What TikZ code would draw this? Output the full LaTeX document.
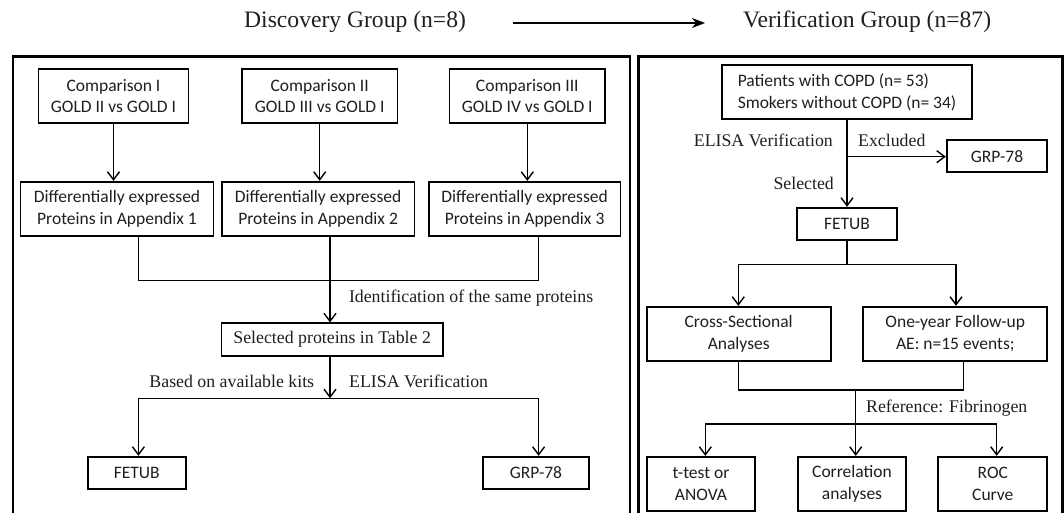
\documentclass[tikz,border=0pt]{standalone}
\usepackage{fontspec}
\setmainfont{Liberation Serif}
\newfontfamily\boxfont{Carlito}
\usetikzlibrary{arrows.meta}
\begin{document}
\begin{tikzpicture}[x=1pt,y=-1pt,
  box/.style={draw, line width=1.7pt, inner sep=0pt, align=center,
    font=\boxfont\fontsize{17.5}{21.7}\selectfont, text=black!88},
  bx/.style n args={2}{box, minimum width=#1pt, minimum height=#2pt},
  lbl/.style={inner sep=0pt, font=\fontsize{17.8}{20}\selectfont, text=black!88},
  ttl/.style={inner sep=0pt, font=\fontsize{23.6}{26}\selectfont, text=black!88},
  conn/.style={line width=1.4pt},
  arr/.style={conn, -{Straight Barb[length=8pt,width=12pt,line width=1.4pt]}},
  tarr/.style={line width=1.8pt, -{Stealth[length=13pt,width=10pt,inset=4pt]}},
  panel/.style={line width=2.4pt}]
\useasboundingbox (0,0) rectangle (1064,513);
\fill[white] (0,0) rectangle (1064,513);

% titles
\node[ttl, anchor=west] (t1) at (244,22) {Discovery Group (n=8)};
\node[ttl, anchor=west] (t2) at (743,22) {Verification Group (n=87)};
\draw[tarr] ([xshift=47pt,yshift=-1pt]t1.east) -- ([xshift=-38pt,yshift=-1pt]t2.west);

% panels
\draw[panel] (12.7,513) -- (12.7,56.5) -- (630,56.5) -- (630,513);
\draw[panel] (638.3,513) -- (638.3,56.5) -- (1062.3,56.5) -- (1062.3,513);

% ---------- left panel ----------
\node[bx={150.2}{53.4}] (c1) at (113.5,96) {Comparison I\\GOLD II vs GOLD I};
\node[bx={155.4}{53.4}] (c2) at (319.7,96) {Comparison II\\GOLD III vs GOLD I};
\node[bx={155.4}{53.4}] (c3) at (527.3,96) {Comparison III\\GOLD IV vs GOLD I};
\node[bx={192.9}{54.3}] (d1) at (117,208.85) {Differentially expressed\\Proteins in Appendix 1};
\node[bx={192.6}{54.3}] (d2) at (318.1,208.85) {Differentially expressed\\Proteins in Appendix 2};
\node[bx={191.5}{54.3}] (d3) at (524.6,208.85) {Differentially expressed\\Proteins in Appendix 3};
\node[box, minimum width=221.5pt, minimum height=32.7pt, font=\fontsize{17.8}{20}\selectfont] (sel) at (332.15,339.65) {Selected proteins in Table 2};
\node[bx={98}{32.6}] (fetubL) at (136.8,473) {FETUB};
\node[bx={106}{32.6}] (grpL) at (536,473) {GRP-78};

\draw[arr] (c1.south) -- (c1.south |- d1.north);
\draw[arr] (c2.south) -- (c2.south |- d2.north);
\draw[arr] (c3.south) -- (c3.south |- d3.north);

\coordinate (j1) at (138.4,280.7);
\coordinate (j2) at (330,280.7);
\coordinate (j3) at (538.6,280.7);
\draw[conn] (d1.south -| j1) -- (j1) -- (j3) -- (d3.south -| j3);
\draw[conn] (d2.south -| j2) -- (j2);
\draw[arr] (j2) -- (j2 |- sel.north);

\coordinate (s1) at (138.4,398.3);
\coordinate (s2) at (330,398.3);
\coordinate (s3) at (538.6,398.3);
\draw[arr] (sel.south -| s2) -- (s2);
\draw[conn] (s1) -- (s3);
\draw[arr] (s1) -- (s1 |- fetubL.north);
\draw[arr] (s3) -- (s3 |- grpL.north);

\node[lbl, anchor=west] (lid) at (348.8,298) {Identification of the same proteins};
\node[lbl, anchor=east] (lkits) at (314.3,381.7) {Based on available kits};
\node[lbl, anchor=west] (lelisa1) at (349,381.7) {ELISA Verification};

% ---------- right panel ----------
\node[box, align=left, minimum width=250.6pt, minimum height=54pt] (pat) at (847,92) {Patients with COPD (n= 53)\\Smokers without COPD (n= 34)};
\node[bx={100.6}{32.3}] (grpR) at (997,156.15) {GRP-78};
\node[bx={100.6}{32.3}] (fetubR) at (847,223.85) {FETUB};
\node[bx={184}{54}] (cross) at (738.7,333.7) {Cross-Sectional\\Analyses};
\node[bx={184}{54}] (one) at (955.3,333.7) {One-year Follow-up\\AE: n=15 events;};
\node[bx={108.6}{54}] (ttest) at (701,483.7) {t-test or\\ANOVA};
\node[bx={107.4}{54}] (corr) at (852,483.7) {Correlation\\analyses};
\node[bx={109}{54}] (roc) at (992.8,483.7) {ROC\\Curve};

\draw[arr] (pat.south) -- (fetubR.north);
\coordinate (e) at (847,156.7);
\draw[arr] (e) -- (e -| grpR.west);

\coordinate (f0) at (847,264.3);
\coordinate (f1) at (738.3,264.3);
\coordinate (f2) at (956,264.3);
\draw[conn] (fetubR.south) -- (f0);
\draw[conn] (f1) -- (f2);
\draw[arr] (f1) -- (f1 |- cross.north);
\draw[arr] (f2) -- (f2 |- one.north);

\coordinate (g0) at (855.7,390);
\coordinate (g1) at (738.3,390);
\coordinate (g2) at (963.3,390);
\draw[conn] (cross.south -| g1) -- (g1) -- (g2) -- (one.south -| g2);
\draw[arr] (g0) -- (g0 |- corr.north);
\coordinate (h1) at (705.3,424);
\coordinate (h2) at (996.7,424);
\draw[conn] (h1) -- (h2);
\draw[arr] (h1) -- (h1 |- ttest.north);
\draw[arr] (h2) -- (h2 |- roc.north);

\node[lbl, anchor=east] (relisa) at (833,140) {ELISA Verification};
\node[lbl, anchor=west] (rexcl) at (858,140) {Excluded};
\node[lbl, anchor=east] (rsel) at (834,183.3) {Selected};
\node[lbl, anchor=west] (rref) at (866,407.7) {Reference: Fibrinogen};
\end{tikzpicture}
\end{document}
